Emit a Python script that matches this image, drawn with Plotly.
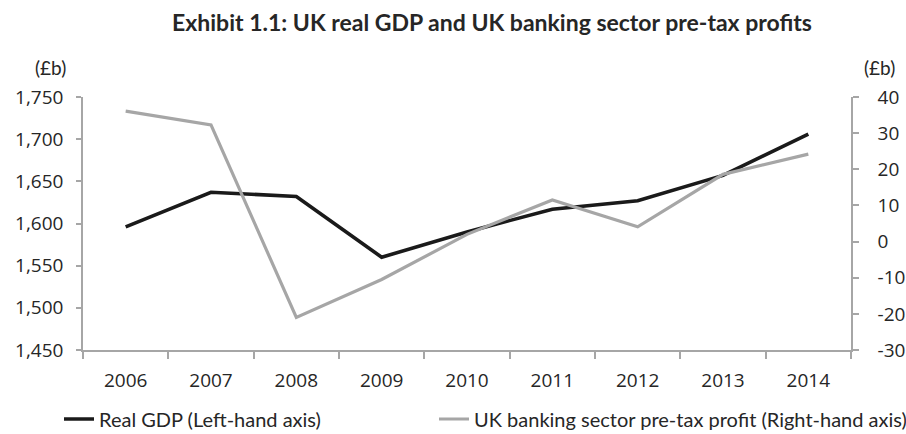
import plotly.graph_objects as go

# Annual series, 2006-2014
years = ["2006", "2007", "2008", "2009", "2010", "2011", "2012", "2013", "2014"]
real_gdp = [1596, 1637, 1632, 1560, 1590, 1617, 1627, 1657, 1706]          # £b, left axis
bank_profit = [36.1, 32.3, -21.0, -10.5, 2.0, 11.5, 4.1, 18.6, 24.2]       # £b, right axis

gdp_ticks = [1450, 1500, 1550, 1600, 1650, 1700, 1750]
gdp_labels = ["1,450", "1,500", "1,550", "1,600", "1,650", "1,700", "1,750"]
profit_ticks = [-30, -20, -10, 0, 10, 20, 30, 40]
profit_labels = ["-30", "-20", "-10", "0", "10", "20", "30", "40"]

W, H = 906, 434
PLOT_L, PLOT_R, PLOT_T, PLOT_B = 83, 851, 97, 350

TEXT = "#262626"
AXIS = "#a6a6a6"
TICK_FONT = dict(family="Open Sans, Lato, sans-serif", size=19, color=TEXT)
TEXT_FONT = "Lato, Open Sans, sans-serif"

fig = go.Figure()
fig.add_trace(go.Scatter(
    x=years, y=real_gdp, name="Real GDP (Left-hand axis)",
    mode="lines", line=dict(color="#1a1a1a", width=3.6), yaxis="y",
    legend="legend", showlegend=True,
))
fig.add_trace(go.Scatter(
    x=years, y=bank_profit, name="UK banking sector pre-tax profit (Right-hand axis)",
    mode="lines", line=dict(color="#a6a6a6", width=3.2), yaxis="y2",
    legend="legend2", showlegend=True,
))

legend_common = dict(
    orientation="h", xref="container", yref="container", xanchor="left",
    yanchor="middle", font=dict(family=TEXT_FONT, size=20, color=TEXT),
    bgcolor="rgba(0,0,0,0)", itemwidth=30, visible=True,
)

fig.update_layout(
    width=W, height=H, showlegend=True,
    margin=dict(l=PLOT_L, r=W - PLOT_R, t=PLOT_T, b=H - PLOT_B, autoexpand=False),
    paper_bgcolor="white", plot_bgcolor="white",
    title=dict(
        text="<b>Exhibit 1.1: UK real GDP and UK banking sector pre-tax profits</b>",
        x=492 / W, xanchor="center", xref="container",
        y=1 - 23 / H, yanchor="middle",
        font=dict(family=TEXT_FONT, size=23, color=TEXT),
    ),
    xaxis=dict(
        type="category", tickson="boundaries",
        showline=True, linecolor=AXIS, linewidth=1.5,
        ticks="outside", ticklen=7, tickcolor=AXIS, tickwidth=1.5,
        showgrid=False, zeroline=False,
        tickfont=TICK_FONT, ticklabelstandoff=12,
        range=[-0.5, len(years) - 0.5],
    ),
    yaxis=dict(
        range=[1450, 1750], tickvals=gdp_ticks, ticktext=gdp_labels,
        showline=True, linecolor=AXIS, linewidth=1.5,
        ticks="outside", ticklen=5, tickcolor=AXIS, tickwidth=1.5,
        showgrid=False, zeroline=False, tickfont=TICK_FONT,
        ticklabelstandoff=9,
    ),
    yaxis2=dict(
        range=[-30, 40], tickvals=profit_ticks, ticktext=profit_labels,
        overlaying="y", side="right",
        showline=True, linecolor=AXIS, linewidth=1.5,
        ticks="outside", ticklen=6, tickcolor=AXIS, tickwidth=1.5,
        showgrid=False, zeroline=False, tickfont=TICK_FONT,
        ticklabelstandoff=15,
    ),
    legend=dict(x=59 / W, y=1 - 419 / H, **legend_common),
    legend2=dict(x=434 / W, y=1 - 419 / H, **legend_common),
)

# Unit labels above both value axes
for px, py in [(50, 67), (879, 67)]:
    fig.add_annotation(
        text="(£b)",
        x=(px - PLOT_L) / (PLOT_R - PLOT_L), y=(PLOT_B - py) / (PLOT_B - PLOT_T),
        xref="paper", yref="paper", xanchor="center", yanchor="middle",
        showarrow=False, font=dict(family=TEXT_FONT, size=19, color=TEXT),
    )

fig.write_html("out.html")
